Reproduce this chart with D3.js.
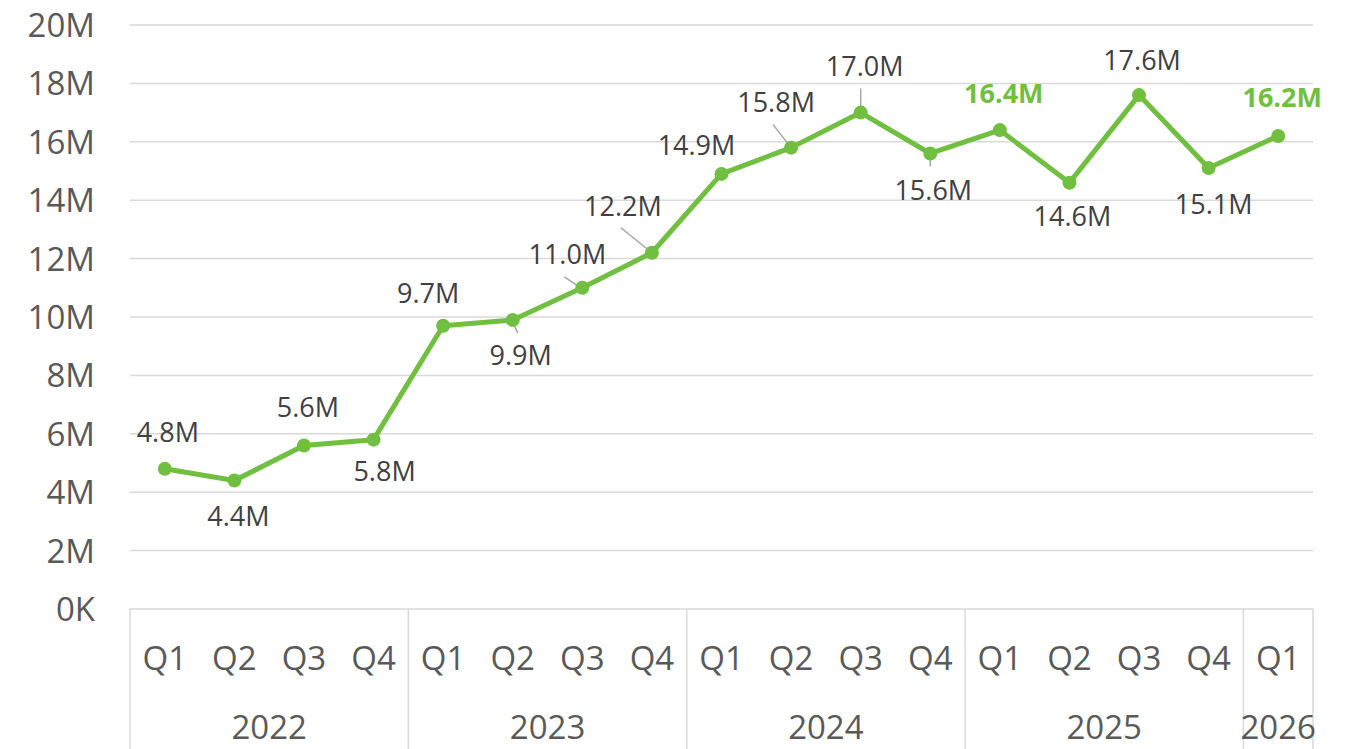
<!DOCTYPE html>
<html>
<head>
<meta charset="utf-8">
<script src="https://cdn.jsdelivr.net/npm/d3@7"></script>
<style>
  html, body { margin: 0; padding: 0; background: #fff; }
  svg { display: block; font-family: "Open Sans", "Noto Sans", sans-serif; }
</style>
</head>
<body>
<svg id="chart" width="1355" height="749"></svg>
<script>
// Quarterly values (millions)
const years = ["2022", "2023", "2024", "2025", "2026"];
const quarters = ["Q1", "Q2", "Q3", "Q4", "Q1", "Q2", "Q3", "Q4", "Q1", "Q2", "Q3", "Q4", "Q1", "Q2", "Q3", "Q4", "Q1"];
const quarterYear = ["2022", "2022", "2022", "2022", "2023", "2023", "2023", "2023", "2024", "2024", "2024", "2024", "2025", "2025", "2025", "2025", "2026"];
const values = [4.8, 4.4, 5.6, 5.8, 9.7, 9.9, 11.0, 12.2, 14.9, 15.8, 17.0, 15.6, 16.4, 14.6, 17.6, 15.1, 16.2];
const highlighted = [12, 16];
const yTicks = [0, 2, 4, 6, 8, 10, 12, 14, 16, 18, 20];

// Label placement relative to each point (px)
const labelOffsets = [[3,-36],[4,36],[4,-38],[11,32],[-15,-32],[8,36],[-15,-33],[-29,-46],[-25,-28],[-15,-45],[4,-46],[3,37],[4,-37],[3,34],[3,-35],[5,36],[4,-38]];
// Leader lines for labels pulled away from their points: [index, x1, y1, x2, y2] relative to the point
const leaders = [[5,0,2,5,13],[6,-18,-11,0,1],[7,-31,-25,0,0],[9,-18,-23,0,0],[10,0,-24,0,0],[11,0,0,0,13]];

const svg = d3.select("#chart");
const plotLeft = 130, plotRight = 1313, plotTop = 25, plotBottom = 609;
const green = "#70bf41";

const keys = quarters.map((q, i) => i);
const x = d3.scaleBand().domain(keys).range([plotLeft, plotRight]).padding(0);
const y = d3.scaleLinear().domain([0, 20]).range([plotBottom, plotTop]);
const cx = i => x(i) + x.bandwidth() / 2;

// Horizontal gridlines
svg.append("g").selectAll("line").data(yTicks.filter(t => t > 0)).join("line")
  .attr("x1", plotLeft).attr("x2", plotRight)
  .attr("y1", d => y(d)).attr("y2", d => y(d))
  .attr("stroke", "#d9d9d9").attr("stroke-width", 1.5);

// Y axis labels
const yAxis = d3.axisLeft(y).tickValues(yTicks).tickSize(0).tickPadding(0)
  .tickFormat(d => d === 0 ? "0K" : d + "M");
const gy = svg.append("g").attr("transform", `translate(95,0)`).call(yAxis);
gy.select(".domain").remove();
gy.selectAll("text").attr("fill", "#595959").style("font-size", "33px")
  .style("font-family", "'Open Sans', sans-serif").attr("dy", "0.35em");

// Category axis: baseline, year separators, quarter and year labels
svg.append("line").attr("x1", plotLeft).attr("x2", plotRight).attr("y1", plotBottom).attr("y2", plotBottom)
  .attr("stroke", "#d9d9d9").attr("stroke-width", 1.5);

const yearGroups = years.map(yr => {
  const idx = keys.filter(i => quarterYear[i] === yr);
  return { year: yr, start: x(idx[0]), end: x(idx[idx.length - 1]) + x.bandwidth() };
});
const seps = [plotLeft].concat(yearGroups.map(g => g.end));
svg.append("g").selectAll("line").data(seps).join("line")
  .attr("x1", d => d).attr("x2", d => d).attr("y1", plotBottom).attr("y2", 749)
  .attr("stroke", "#d9d9d9").attr("stroke-width", 1.5);

svg.append("g").selectAll("text").data(keys).join("text")
  .attr("x", i => cx(i)).attr("y", 658).attr("dy", "0.35em")
  .attr("text-anchor", "middle").attr("fill", "#595959").style("font-size", "33px")
  .text(i => quarters[i]);

svg.append("g").selectAll("text").data(yearGroups).join("text")
  .attr("x", g => (g.start + g.end) / 2).attr("y", 727).attr("dy", "0.35em")
  .attr("text-anchor", "middle").attr("fill", "#595959").style("font-size", "33px")
  .text(g => g.year);

// Leader lines
svg.append("g").selectAll("line").data(leaders).join("line")
  .attr("x1", d => cx(d[0]) + d[1]).attr("y1", d => y(values[d[0]]) + d[2])
  .attr("x2", d => cx(d[0]) + d[3]).attr("y2", d => y(values[d[0]]) + d[4])
  .attr("stroke", "#a6a6a6").attr("stroke-width", 1.5);

// Series line and markers
const line = d3.line().x(i => cx(i)).y(i => y(values[i]));
svg.append("path").datum(keys).attr("d", line)
  .attr("fill", "none").attr("stroke", green).attr("stroke-width", 5)
  .attr("stroke-linejoin", "round").attr("stroke-linecap", "round");

svg.append("g").selectAll("circle").data(keys).join("circle")
  .attr("cx", i => cx(i)).attr("cy", i => y(values[i])).attr("r", 7)
  .attr("fill", green);

// Data labels
svg.append("g").selectAll("text").data(keys).join("text")
  .attr("x", i => cx(i) + labelOffsets[i][0])
  .attr("y", i => y(values[i]) + labelOffsets[i][1])
  .attr("dy", "0.35em").attr("text-anchor", "middle")
  .attr("fill", i => highlighted.includes(i) ? green : "#404040")
  .style("font-weight", i => highlighted.includes(i) ? "700" : "400")
  .style("font-size", "27px")
  .text(i => values[i].toFixed(1) + "M");
</script>
</body>
</html>
